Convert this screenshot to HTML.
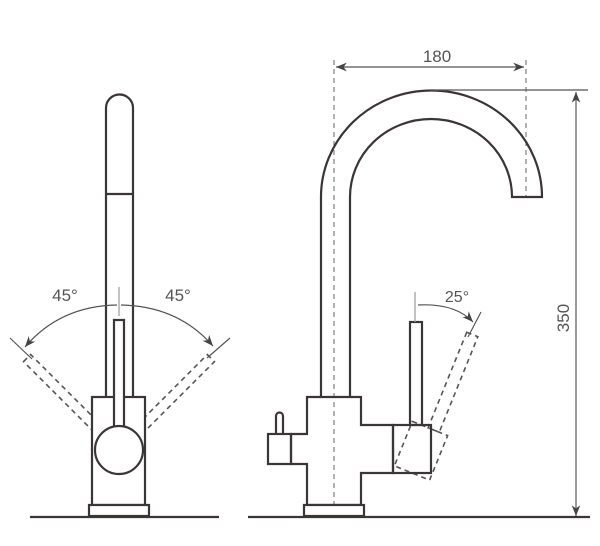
<!DOCTYPE html>
<html><head><meta charset="utf-8"><style>
html,body{margin:0;padding:0;background:#fff;}
svg{display:block;}
text{font-family:"Liberation Sans",sans-serif;fill:#555;}
</style></head><body>
<svg width="600" height="546" viewBox="0 0 600 546" xmlns="http://www.w3.org/2000/svg">
<defs>
<marker id="ar" viewBox="0 0 10 10" refX="10" refY="5" markerWidth="9" markerHeight="9" orient="auto-start-reverse"><path d="M0,1 L10,5 L0,9 L3,5z" fill="#444"/></marker>
</defs>
<g fill="none" stroke="#3b3636" stroke-width="2.2">
<g stroke-dasharray="5,4" stroke-width="1.6" stroke="#555">
<rect x="114" y="320" width="10" height="130" transform="rotate(-45 119 450)"/>
<rect x="114" y="320" width="10" height="130" transform="rotate(45 119 450)"/>
</g>
<path d="M106,397 V108 A13.5,13.5 0 0 1 133,108 V397" />
<line x1="106" y1="194" x2="133" y2="194"/>
<rect x="92" y="397" width="53" height="108" fill="#fff"/>
<rect x="89" y="505" width="60" height="11" fill="#fff"/>
<line x1="30" y1="517" x2="219" y2="517"/>
<rect x="114" y="320" width="10" height="110" fill="#fff"/>
<circle cx="119" cy="450" r="24" fill="#fff"/>
<g stroke="#555" stroke-width="1.2">
<line x1="119" y1="287" x2="119" y2="316" stroke="#999"/>
<path d="M117,305 Q60,306 25,347" marker-end="url(#ar)"/>
<path d="M121,305 Q178,306 213,346" marker-end="url(#ar)"/>
<line x1="10" y1="338" x2="32" y2="359"/>
<line x1="230" y1="338" x2="207" y2="358"/>
</g>
<g stroke="#666" stroke-width="1" stroke-dasharray="5,4">
<line x1="334" y1="60" x2="334" y2="517"/>
<line x1="526" y1="60" x2="526" y2="197"/>
</g>
<path d="M321,397 V197 A110,106 0 0 1 542,197 H512 A81,78 0 0 0 350,197 V397"/>
<g stroke-dasharray="5,4" stroke-width="1.6" stroke="#555">
<rect x="410" y="322" width="12" height="103" transform="rotate(22 412 473)"/>
<rect x="393" y="425" width="38" height="48" transform="rotate(22 412 473)"/>
</g>
<path d="M307,397 H361 V425 H393 V473 H361 V505 H307 V464 H291 V434 H307 Z"/>
<rect x="268" y="434" width="23" height="30"/>
<path d="M276,434 V416 A3.5,3.5 0 0 1 283,416 V434"/>
<rect x="393" y="425" width="38" height="48"/>
<rect x="410" y="322" width="12" height="103"/>
<rect x="304" y="505" width="60" height="11" fill="#fff"/>
<line x1="248" y1="517" x2="590" y2="517"/>
<g stroke="#555" stroke-width="1.2">
<line x1="415" y1="292" x2="415" y2="322" stroke="#999"/>
<path d="M418,305 Q455,303 473,322" marker-end="url(#ar)"/>
<line x1="481" y1="312" x2="468" y2="337"/>
<line x1="336" y1="67" x2="524" y2="67" marker-start="url(#ar)" marker-end="url(#ar)"/>
<line x1="430" y1="90" x2="588" y2="90"/>
<line x1="576" y1="92" x2="576" y2="516" marker-start="url(#ar)" marker-end="url(#ar)"/>
</g>
</g>
<text x="65" y="301" font-size="17" text-anchor="middle">45°</text>
<text x="178" y="301" font-size="17" text-anchor="middle">45°</text>
<text x="457" y="302" font-size="16" text-anchor="middle">25°</text>
<text x="437" y="62" font-size="17" text-anchor="middle">180</text>
<text x="0" y="0" font-size="17" text-anchor="middle" transform="translate(569,318) rotate(-90)">350</text>
</svg>
</body></html>
